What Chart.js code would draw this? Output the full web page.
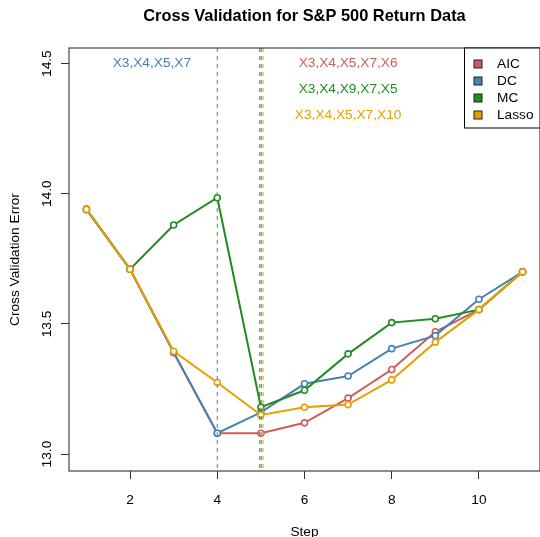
<!DOCTYPE html>
<html>
<head>
<meta charset="utf-8">
<script src="https://cdn.jsdelivr.net/npm/chart.js@4"></script>
<style>
  html, body { margin: 0; padding: 0; background: #fff; }
  #wrap { width: 540px; height: 537px; }
</style>
</head>
<body>
<div id="wrap"><canvas id="cv-chart" width="540" height="537"></canvas></div>
<script>
const steps = [1, 2, 3, 4, 5, 6, 7, 8, 9, 10, 11];
const aicErr = [13.94, 13.71, 13.39, 13.08, 13.08, 13.12, 13.215, 13.325, 13.47, 13.555, 13.70];
const dcErr = [13.94, 13.71, 13.39, 13.08, 13.16, 13.27, 13.30, 13.405, 13.455, 13.595, 13.70];
const mcErr = [13.94, 13.71, 13.88, 13.985, 13.18, 13.245, 13.385, 13.505, 13.52, 13.555, 13.70];
const lassoErr = [13.94, 13.71, 13.395, 13.275, 13.15, 13.18, 13.19, 13.285, 13.43, 13.555, 13.70];

const methods = ["AIC", "DC", "MC", "Lasso"];
const methodColors = ["#CD5C5C", "#4682B4", "#228B22", "#E69F00"];
// chosen step for each method (vertical dashed lines)
const chosenStep = [5.01, 4, 4.975, 5.05];
// selected variables per method and where the text sits
const chosenVars = ["X3,X4,X5,X7,X6", "X3,X4,X5,X7", "X3,X4,X9,X7,X5", "X3,X4,X5,X7,X10"];
const varsAtStep = [7, 2.5, 7, 7];
const varsAtErr = [14.5, 14.5, 14.4, 14.3];

const xTicks = [2, 4, 6, 8, 10];
const yTicks = [13.0, 13.5, 14.0, 14.5];

const FONT = "'Liberation Sans', Arial, sans-serif";
const allErr = [aicErr, dcErr, mcErr, lassoErr];

const datasets = methods.map((name, i) => ({
  label: name,
  data: steps.map((s, j) => ({ x: s, y: allErr[i][j] })),
  borderColor: methodColors[i],
  borderWidth: 2,
  pointRadius: 3,
  pointBorderWidth: 1.6,
  pointBackgroundColor: "#fff",
  pointBorderColor: methodColors[i],
  tension: 0,
  order: methods.length - i,
}));

const rDecorations = {
  id: "rDecorations",
  afterDatasetsDraw(chart) {
    const { ctx, chartArea: a, scales } = chart;
    const x = scales.x, y = scales.y;
    ctx.save();

    // selected step lines
    ctx.lineWidth = 1;
    ctx.setLineDash([4, 4]);
    chosenStep.forEach((s, i) => {
      const px = x.getPixelForValue(s);
      ctx.strokeStyle = methodColors[i];
      ctx.beginPath();
      ctx.moveTo(px, a.top);
      ctx.lineTo(px, a.bottom);
      ctx.stroke();
    });
    ctx.setLineDash([]);

    // variable sets
    ctx.font = "13.7px " + FONT;
    ctx.textAlign = "center";
    ctx.textBaseline = "middle";
    chosenVars.forEach((t, i) => {
      ctx.fillStyle = methodColors[i];
      ctx.fillText(t, x.getPixelForValue(varsAtStep[i]), y.getPixelForValue(varsAtErr[i]));
    });

    // rotated y tick labels
    ctx.fillStyle = "#000";
    y.ticks.forEach((t) => {
      ctx.save();
      ctx.translate(47, y.getPixelForValue(t.value));
      ctx.rotate(-Math.PI / 2);
      ctx.fillText(t.value.toFixed(1), 0, 0);
      ctx.restore();
    });

    // box
    ctx.strokeStyle = "#444";
    ctx.lineWidth = 1.2;
    ctx.strokeRect(a.left, a.top, a.right - a.left, a.bottom - a.top);

    // legend
    const lx = 464.5, ly = a.top, lw = a.right - lx, lh = 80;
    ctx.fillStyle = "#fff";
    ctx.fillRect(lx, ly, lw, lh);
    ctx.strokeStyle = "#000";
    ctx.lineWidth = 1;
    ctx.strokeRect(lx, ly, lw, lh);
    ctx.textAlign = "left";
    methods.forEach((m, i) => {
      const cy = 64 + i * 17;
      ctx.fillStyle = methodColors[i];
      ctx.fillRect(474, cy - 4, 8, 8);
      ctx.strokeStyle = "#222";
      ctx.strokeRect(474, cy - 4, 8, 8);
      ctx.fillStyle = "#000";
      ctx.fillText(m, 497, cy);
    });

    // title
    ctx.font = "bold 16.4px " + FONT;
    ctx.textAlign = "center";
    ctx.textBaseline = "alphabetic";
    ctx.fillText("Cross Validation for S&P 500 Return Data", (a.left + a.right) / 2, 20.8);
    ctx.restore();
  },
};

new Chart(document.getElementById("cv-chart").getContext("2d"), {
  type: "line",
  data: { datasets: datasets },
  options: {
    responsive: false,
    animation: false,
    layout: { autoPadding: false, padding: { top: 48, left: 0, right: 0, bottom: 0 } },
    plugins: {
      legend: { display: false },
      title: { display: false },
      tooltip: { enabled: false },
    },
    scales: {
      x: {
        type: "linear",
        min: 0.6,
        max: 11.4,
        afterBuildTicks: (s) => { s.ticks = xTicks.map((v) => ({ value: v })); },
        afterFit: (s) => { s.height = 66; },
        grid: { drawOnChartArea: false, drawTicks: true, tickLength: 8, tickColor: "#333" },
        border: { display: false },
        ticks: { color: "#000", padding: 13, maxRotation: 0, font: { family: FONT, size: 13.7 } },
        title: {
          display: true,
          text: "Step",
          color: "#000",
          font: { family: FONT, size: 13.7 },
          padding: { top: 0, bottom: -3 },
        },
      },
      y: {
        type: "linear",
        min: 12.935,
        max: 14.56,
        afterBuildTicks: (s) => { s.ticks = yTicks.map((v) => ({ value: v })); },
        afterFit: (s) => { s.width = 69; },
        grid: { drawOnChartArea: false, drawTicks: true, tickLength: 8, tickColor: "#333" },
        border: { display: false },
        ticks: { color: "rgba(0,0,0,0)", font: { family: FONT, size: 13.7 } },
        title: {
          display: true,
          text: "Cross Validation Error",
          color: "#000",
          font: { family: FONT, size: 13.7 },
          padding: { top: 7, bottom: 0 },
        },
      },
    },
  },
  plugins: [rDecorations],
});
</script>
</body>
</html>
